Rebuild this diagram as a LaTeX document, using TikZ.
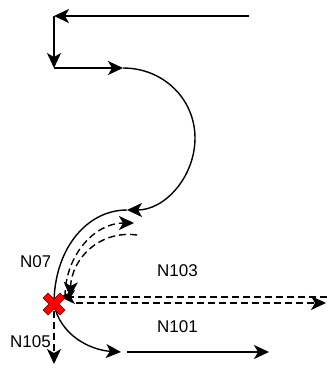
\documentclass[tikz,border=0pt]{standalone}
\usepackage{fontspec}
\setmainfont{Liberation Sans}
\usetikzlibrary{arrows.meta}
\tikzset{
  conn/.style={line width=1.4pt,-{Stealth[length=15pt,width=14pt,inset=4pt]}},
  plain/.style={line width=1.4pt},
  dashline/.style={dash pattern=on 7pt off 4pt},
  lbl/.style={font=\fontsize{17}{20}\selectfont, inner sep=0pt, anchor=base west},
}
\begin{document}
\begin{tikzpicture}[x=1pt,y=-1pt]
\useasboundingbox (0,0) rectangle (327,368);
% points
\coordinate (a0) at (249,16);
\coordinate (a1) at (54,16);
\coordinate (a2) at (54,68);
\coordinate (a3) at (123,68);
\coordinate (a4) at (127,210);
\coordinate (x) at (54,304);
\coordinate (b1) at (121,352);
\coordinate (b2) at (127,352);
\coordinate (b3) at (269,352);
\coordinate (d1) at (327,297);
\coordinate (d2) at (60,297);
\coordinate (e1) at (76,303);
\coordinate (e2) at (326,303);
\coordinate (f0) at (65,297);
\coordinate (f1) at (134,223);
\coordinate (g0) at (137,235);
\coordinate (g1) at (70,297);
\coordinate (v0) at (54,311);
\coordinate (v1) at (54,364);

% top route
\draw[conn] (a0) -- (a1);
\draw[conn] (a1) -- (a2);
\draw[conn] (a2) -- (a3);
\draw[conn] (a3) .. controls (163.7,68) and (195,99.3) .. (195,138)
                 .. controls (195,176.7) and (165,210) .. (a4);
% lower solid arc through cross
\draw[plain] (a4) .. controls (86,210) and (54,250) .. (x);
\draw[conn] (x) .. controls (60,335) and (90,350) .. (b1);
\draw[conn] (b2) -- (b3);
% dashed
\draw[conn,dashline] (d1) -- (d2);
\draw[conn,dashline] (e1) -- (e2);
\draw[conn,dashline] (f0) .. controls (65,255) and (95,223) .. (f1);
\draw[conn,dashline] (g0) .. controls (100,230) and (72,258) .. (g1);
\draw[conn,dashline] (v0) -- (v1);

% red cross
\begin{scope}[shift={(x)},rotate=45]
\draw[fill=red,draw=red!60!black,line width=0.7pt]
  (-3.5,-12) -- (3.5,-12) -- (3.5,-3.5) -- (12,-3.5) -- (12,3.5) -- (3.5,3.5)
  -- (3.5,12) -- (-3.5,12) -- (-3.5,3.5) -- (-12,3.5) -- (-12,-3.5) -- (-3.5,-3.5) -- cycle;
\end{scope}

% labels
\begin{scope}
\clip (0,240) rectangle (49.5,360);
\node[lbl] (l07) at (20,267) {N07};
\node[lbl] (l105) at (10,347) {N105};
\end{scope}
\node[lbl] (l103) at (157,276) {N103};
\node[lbl] (l101) at (157,332) {N101};
\end{tikzpicture}
\end{document}
